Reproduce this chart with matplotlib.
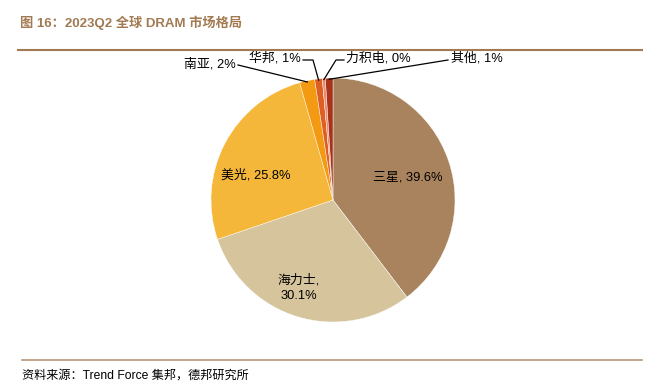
import numpy as np
import matplotlib.pyplot as plt

plt.rcParams["font.family"] = ["Liberation Sans", "Noto Sans CJK SC"]

names = ["三星", "海力士", "美光", "南亚", "华邦", "力积电", "其他"]
shares = [39.6, 30.1, 25.8, 2.0, 1.0, 0.4, 1.0]
share_labels = ["39.6%", "30.1%", "25.8%", "2%", "1%", "0%", "1%"]
colors = ["#A8835D", "#D6C59C", "#F4B73A", "#F39A12", "#DF5F22", "#EC8A6A", "#A9321B"]

W, H = 656, 390
fig = plt.figure(figsize=(W / 100, H / 100), dpi=100)
ax = fig.add_axes([0, 0, 1, 1])

cx, cy, r = 333, 390 - 200, 122
wedges, _ = ax.pie(shares, colors=colors, startangle=90, counterclock=False,
                   center=(cx, cy), radius=r, frame=True,
                   wedgeprops=dict(linewidth=0.3, edgecolor="white"))
ax.set_xlim(0, W)
ax.set_ylim(0, H)
ax.set_aspect("equal")
ax.axis("off")

fs = 9.3
# inside labels
ax.text(408, 390 - 178, names[0] + ", " + share_labels[0], fontsize=fs, ha="center", va="center")
ax.text(299, 390 - 288, names[1] + ",\n" + share_labels[1], fontsize=fs, ha="center", va="center",
        linespacing=1.3)
ax.text(256, 390 - 175, names[2] + ", " + share_labels[2], fontsize=fs, ha="center", va="center")

def edge(i, rr=0.99):
    w = wedges[i]
    a = np.deg2rad((w.theta1 + w.theta2) / 2)
    return cx + r * rr * np.cos(a), cy + r * rr * np.sin(a)

# outside labels with leader lines
lw = 0.9
x, y = edge(3)
ax.plot([238, x], [390 - 65, y], color="black", lw=lw)
ax.text(236, 390 - 64, names[3] + ", " + share_labels[3], fontsize=fs, ha="right", va="center")

x, y = edge(4)
ax.plot([303, 313, x], [390 - 60, 390 - 60, y], color="black", lw=lw)
ax.text(301, 390 - 58, names[4] + ", " + share_labels[4], fontsize=fs, ha="right", va="center")

x, y = edge(5)
ax.plot([344, 336, x], [390 - 60, 390 - 60, y], color="black", lw=lw)
ax.text(346, 390 - 58, names[5] + ", " + share_labels[5], fontsize=fs, ha="left", va="center")

x, y = edge(6)
ax.plot([448, x], [390 - 60, y], color="black", lw=lw)
ax.text(451, 390 - 58, names[6] + ", " + share_labels[6], fontsize=fs, ha="left", va="center")

# header and footer
brown = "#A27A52"
fig.text(20 / W, 1 - 23 / H, "图 16：2023Q2 全球 DRAM 市场格局", fontsize=9.5, fontweight="bold",
         color=brown, ha="left", va="center")
ax.plot([18, 642], [390 - 50, 390 - 50], color=brown, lw=1.5)
ax.plot([22, 642], [390 - 360, 390 - 360], color="#B89878", lw=1.2)
fig.text(22 / W, 1 - 376 / H, "资料来源：Trend Force 集邦，德邦研究所", fontsize=8.7,
         color="black", ha="left", va="center")

plt.savefig("out.png", dpi=100)
